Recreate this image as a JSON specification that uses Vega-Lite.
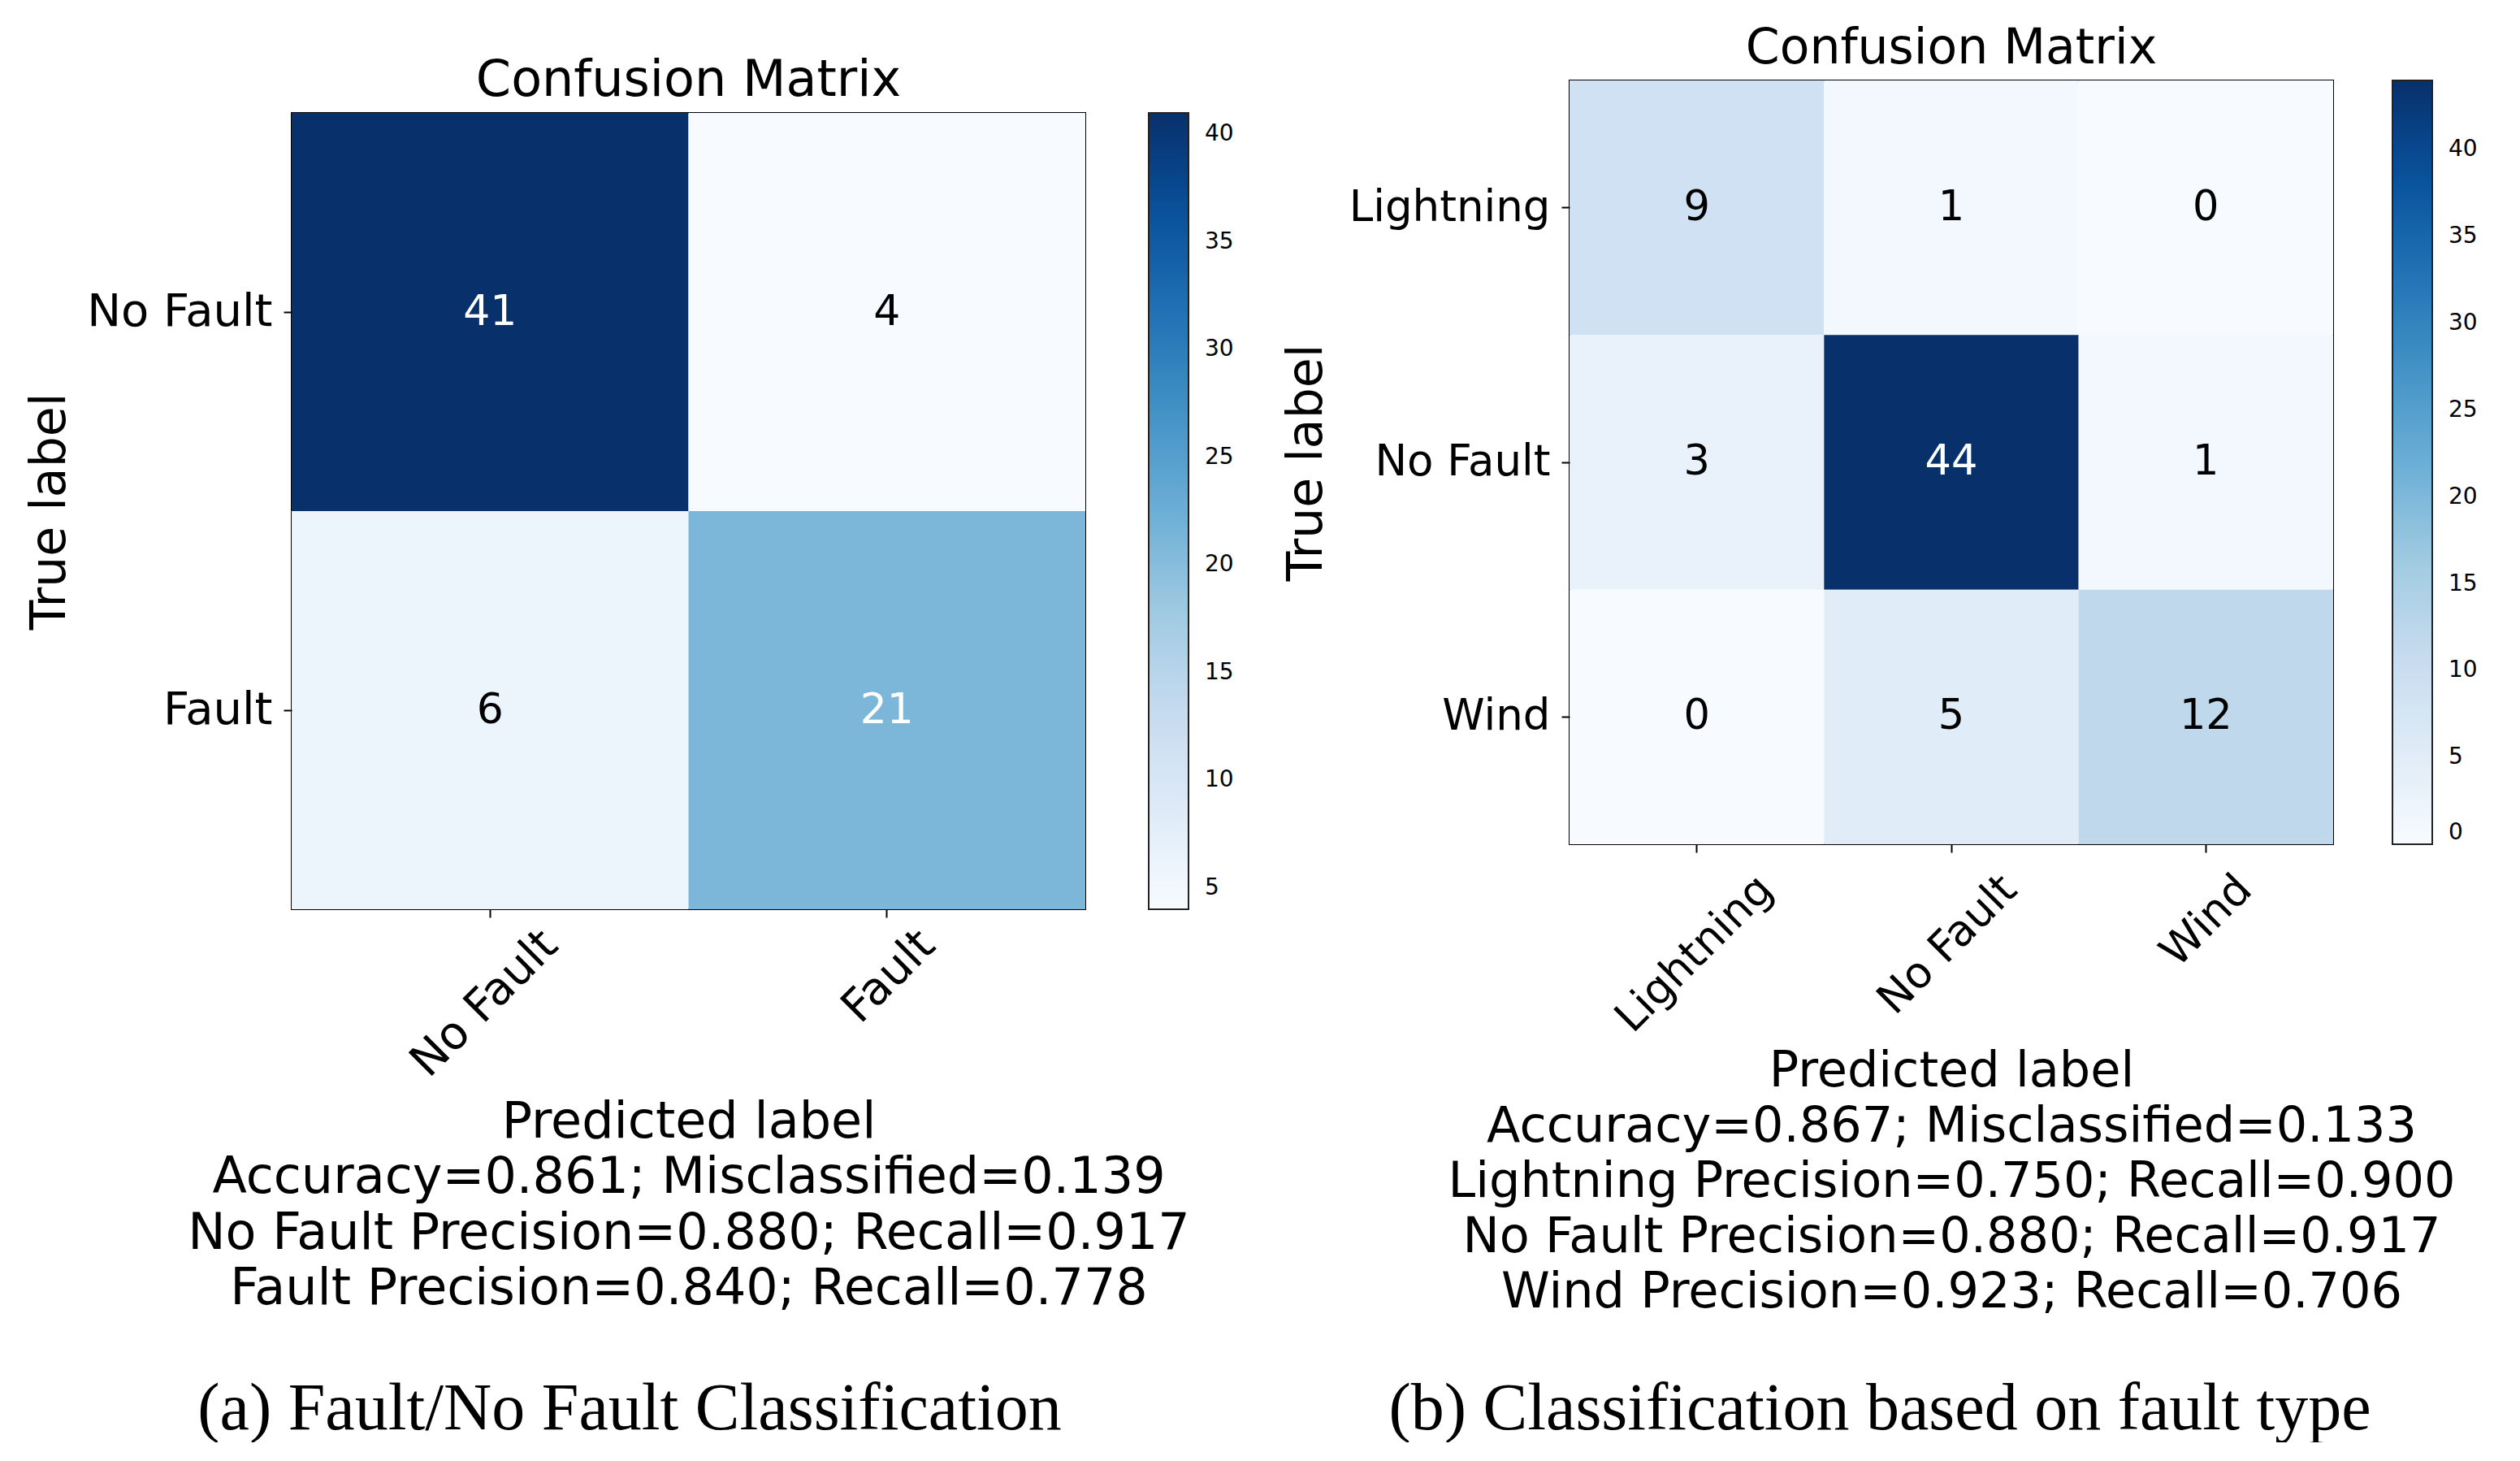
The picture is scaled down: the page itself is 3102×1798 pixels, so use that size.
{
  "$schema": "https://vega.github.io/schema/vega-lite/v6.json",
  "background": "white",
  "padding": {"left": 30, "top": 28, "right": 4, "bottom": 0},
  "config": {
    "font": "DejaVu Sans",
    "view": {"stroke": "black", "strokeWidth": 2},
    "axis": {
      "domain": false,
      "grid": false,
      "tickColor": "black",
      "tickWidth": 2,
      "tickSize": 10,
      "labelColor": "black",
      "titleColor": "black",
      "labelFont": "DejaVu Sans",
      "titleFont": "DejaVu Sans",
      "labelFontSize": 54,
      "labelLimit": 1000,
      "titleFontSize": 60,
      "titleFontWeight": "normal"
    },
    "title": {"font": "DejaVu Sans", "fontWeight": "normal", "color": "black"},
    "concat": {"spacing": 57}
  },
  "datasets": {
    "binary": [
      {"t": "No Fault", "p": "No Fault", "v": 41},
      {"t": "No Fault", "p": "Fault", "v": 4},
      {"t": "Fault", "p": "No Fault", "v": 6},
      {"t": "Fault", "p": "Fault", "v": 21}
    ],
    "multi": [
      {"t": "Lightning", "p": "Lightning", "v": 9},
      {"t": "Lightning", "p": "No Fault", "v": 1},
      {"t": "Lightning", "p": "Wind", "v": 0},
      {"t": "No Fault", "p": "Lightning", "v": 3},
      {"t": "No Fault", "p": "No Fault", "v": 44},
      {"t": "No Fault", "p": "Wind", "v": 1},
      {"t": "Wind", "p": "Lightning", "v": 0},
      {"t": "Wind", "p": "No Fault", "v": 5},
      {"t": "Wind", "p": "Wind", "v": 12}
    ],
    "none": []
  },
  "resolve": {"scale": {"color": "independent"}, "legend": {"color": "independent"}},
  "hconcat": [
    {
      "title": {"text": "(a) Fault/No Fault Classification", "orient": "bottom", "anchor": "middle", "font": "Liberation Serif", "fontSize": 82, "offset": 76, "fontWeight": "normal"},
      "resolve": {"scale": {"color": "independent"}, "legend": {"color": "independent"}},
      "spacing": 0,
      "vconcat": [
        {
          "width": 1, "height": 39,
          "data": {"name": "none"},
          "mark": {"type": "rect"},
          "encoding": {},
          "view": {"stroke": null}
        },
        {
          "width": 977,
          "height": 980,
          "title": {"text": "Confusion Matrix", "fontSize": 62, "frame": "group", "anchor": "middle", "offset": 8},
          "data": {"name": "binary"},
          "encoding": {
            "x": {
              "field": "p", "type": "nominal", "sort": ["No Fault", "Fault"],
              "scale": {"paddingInner": 0, "paddingOuter": 0},
              "axis": {
                "labelAngle": -45, "labelAlign": "right", "labelBaseline": "middle",
                "labelFontSize": 56,
                "labelPadding": 25, "labelLimit": 1000,
                "labelOffset": {"condition": {"test": "datum.value === 'No Fault'", "value": 74}, "value": 50},
                "title": ["Predicted label", "Accuracy=0.861; Misclassified=0.139", "No Fault Precision=0.880; Recall=0.917", "Fault Precision=0.840; Recall=0.778"],
                "titleFontSize": 62, "titleLineHeight": 68.5, "titlePadding": 31
              }
            },
            "y": {
              "field": "t", "type": "nominal", "sort": ["No Fault", "Fault"],
              "scale": {"paddingInner": 0, "paddingOuter": 0},
              "axis": {"title": "True label", "labelFontSize": 56, "labelPadding": 14, "labelLimit": 1000, "titlePadding": 67}
            }
          },
          "layer": [
            {
              "mark": {"type": "rect"},
              "encoding": {
                "color": {
                  "field": "v", "type": "quantitative",
                  "scale": {
                    "domain": [4, 8.625, 13.25, 17.875, 22.5, 27.125, 31.75, 36.375, 41],
                    "range": ["#f7fbff", "#deebf7", "#c6dbef", "#9ecae1", "#6baed6", "#4292c6", "#2171b5", "#08519c", "#08306b"],
                    "interpolate": "rgb"
                  },
                  "legend": {
                    "title": null, "orient": "right", "offset": 78, "padding": 0,
                    "gradientLength": 980, "gradientThickness": 49,
                    "gradientStrokeColor": "#222", "gradientStrokeWidth": 2,
                    "values": [5, 10, 15, 20, 25, 30, 35, 40],
                    "labelFontSize": 28, "labelOffset": 20, "labelOverlap": false,
                    "labelBaseline": "middle",
                    "labelColor": "black", "labelFont": "DejaVu Sans"
                  }
                }
              }
            },
            {
              "mark": {"type": "text", "fontSize": 52, "font": "DejaVu Sans"},
              "encoding": {
                "text": {"field": "v", "type": "quantitative"},
                "color": {"condition": {"test": "datum.v > 20.5", "value": "white"}, "value": "black"}
              }
            }
          ]
        }
      ]
    },
    {
      "title": {"text": "(b) Classification based on fault type", "orient": "bottom", "anchor": "middle", "font": "Liberation Serif", "fontSize": 82, "offset": 72, "fontWeight": "normal"},
      "resolve": {"scale": {"color": "independent"}, "legend": {"color": "independent"}},
      "spacing": 0,
      "vconcat": [
        {
          "width": 1, "height": 1,
          "data": {"name": "none"},
          "mark": {"type": "rect"},
          "encoding": {},
          "view": {"stroke": null}
        },
        {
          "width": 940,
          "height": 940,
          "title": {"text": "Confusion Matrix", "fontSize": 60, "frame": "group", "anchor": "middle", "offset": 8},
          "data": {"name": "multi"},
          "encoding": {
            "x": {
              "field": "p", "type": "nominal", "sort": ["Lightning", "No Fault", "Wind"],
              "scale": {"paddingInner": 0, "paddingOuter": 0},
              "axis": {
                "labelAngle": -45, "labelAlign": "right", "labelBaseline": "middle",
                "labelFontSize": 53, "labelLimit": 1000,
                "labelPadding": 37,
                "labelOffset": {"condition": [{"test": "datum.value === 'Wind'", "value": 48}, {"test": "datum.value === 'No Fault'", "value": 72}], "value": 85},
                "title": ["Predicted label", "Accuracy=0.867; Misclassified=0.133", "Lightning Precision=0.750; Recall=0.900", "No Fault Precision=0.880; Recall=0.917", "Wind Precision=0.923; Recall=0.706"],
                "titleFontSize": 60.5, "titleLineHeight": 68, "titlePadding": 49
              }
            },
            "y": {
              "field": "t", "type": "nominal", "sort": ["Lightning", "No Fault", "Wind"],
              "scale": {"paddingInner": 0, "paddingOuter": 0},
              "axis": {"title": "True label", "labelFontSize": 53, "labelLimit": 1000, "labelPadding": 14, "titlePadding": 93}
            }
          },
          "layer": [
            {
              "mark": {"type": "rect"},
              "encoding": {
                "color": {
                  "field": "v", "type": "quantitative",
                  "scale": {
                    "domain": [0, 5.5, 11, 16.5, 22, 27.5, 33, 38.5, 44],
                    "range": ["#f7fbff", "#deebf7", "#c6dbef", "#9ecae1", "#6baed6", "#4292c6", "#2171b5", "#08519c", "#08306b"],
                    "interpolate": "rgb"
                  },
                  "legend": {
                    "title": null, "orient": "right", "offset": 73, "padding": 0,
                    "gradientLength": 940, "gradientThickness": 49,
                    "gradientStrokeColor": "#222", "gradientStrokeWidth": 2,
                    "values": [0, 5, 10, 15, 20, 25, 30, 35, 40],
                    "labelFontSize": 28, "labelOffset": 20, "labelOverlap": false,
                    "labelBaseline": "middle",
                    "labelColor": "black", "labelFont": "DejaVu Sans"
                  }
                }
              }
            },
            {
              "mark": {"type": "text", "fontSize": 51, "font": "DejaVu Sans"},
              "encoding": {
                "text": {"field": "v", "type": "quantitative"},
                "color": {"condition": {"test": "datum.v > 22", "value": "white"}, "value": "black"}
              }
            }
          ]
        }
      ]
    }
  ]
}
